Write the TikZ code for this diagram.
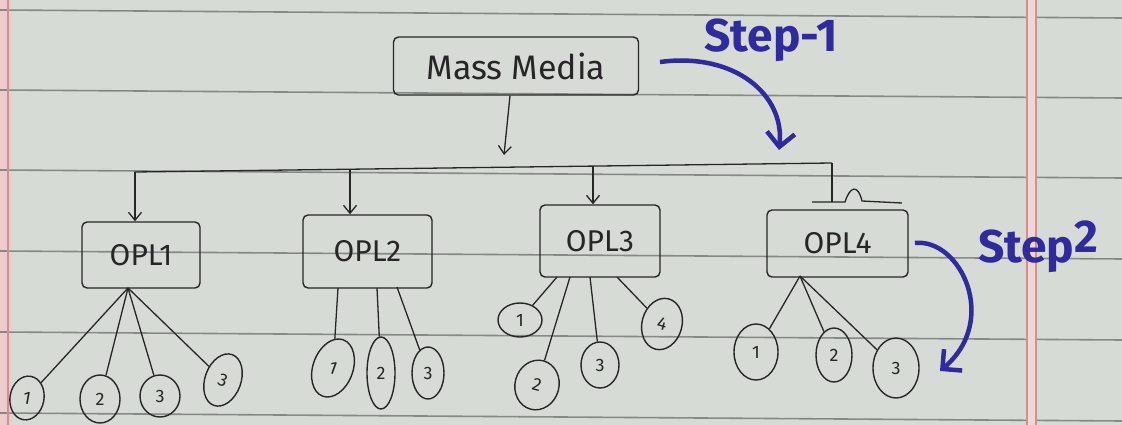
\documentclass[tikz,border=0pt]{standalone}
\usepackage{fontspec}
\setmainfont{Fira Sans}
\usetikzlibrary{arrows.meta,shapes.geometric}
\definecolor{paper}{HTML}{D7DBD5}
\definecolor{ruled}{HTML}{868A86}
\definecolor{ink}{HTML}{262626}
\definecolor{blueink}{HTML}{2F2A9E}
\definecolor{margin}{HTML}{D48E8E}
\begin{document}
\begin{tikzpicture}[x=1pt,y=-1pt,
  box/.style={draw=ink, line width=1.4pt, rounded corners=5pt, inner sep=0pt, text=ink},
  leaf/.style={draw=ink, line width=1.4pt, ellipse, inner sep=0pt, text=ink, font=\fontsize{18}{18}\selectfont},
  link/.style={draw=ink, line width=1.3pt},
  arr/.style={draw=ink, line width=1.3pt, -{Straight Barb[length=8pt,width=13pt]}},
  bluearr/.style={draw=blueink, line width=4.5pt, -{Straight Barb[length=14pt,width=28pt,line width=4.5pt]}},
  bluetext/.style={text=blueink, font=\fontsize{46}{46}\selectfont\bfseries}]
% paper
\fill[paper] (0,0) rectangle (1122,425);
\useasboundingbox (0,0) rectangle (1122,425);
\fill[margin!45] (0,0) rectangle (12,425);
\foreach \y in {10,90,170,251,332,413}
  \draw[ruled, line width=1.6pt] (0,\y) -- (1122,\y+8);
\draw[margin, line width=1.5pt] (8,0) -- (8,425);
\fill[margin!35] (1027,0) rectangle (1036,425);
\draw[margin, line width=1.5pt] (1027,0) -- (1027,425);
\draw[margin, line width=1.5pt] (1036,0) -- (1036,425);

% root
\node[box, minimum width=245pt, minimum height=58pt, font=\fontsize{34}{34}\selectfont] (mm) at (516,66) {Mass Media};
\coordinate (mmt) at (504,155);
\draw[arr] (mm.south -| mmt) ++(6,0) -- (mmt);

% OPL boxes
\node[box, minimum width=118pt, minimum height=66pt, font=\fontsize{30}{30}\selectfont] (o1) at (141,255) {OPL1};
\node[box, minimum width=129pt, minimum height=73pt, font=\fontsize{30}{30}\selectfont] (o2) at (367.5,251.5) {OPL2};
\node[box, minimum width=120pt, minimum height=72pt, font=\fontsize{30}{30}\selectfont] (o3) at (600,241) {OPL3};
\node[box, minimum width=141pt, minimum height=67pt, font=\fontsize{30}{30}\selectfont] (o4) at (837.5,243.5) {OPL4};

% bus
\coordinate (b1) at (135,172);
\coordinate (b2) at (350,169);
\coordinate (b3) at (593,166);
\coordinate (b4) at (832,163);
\draw[link] (b1) -- (b4);
\draw[arr] (b1) -- (b1 |- o1.north);
\draw[arr] (b2) -- (b2 |- o2.north);
\draw[arr] (b3) -- (b3 |- o3.north);
\coordinate (h4) at (832,202);
\draw[link] (b4) -- (h4);
\draw[link] (812,202) -- (845,202) .. controls (850,186) and (858,184) .. (862,201) -- (902,203);

% leaves OPL1
\node[leaf, minimum width=34pt, minimum height=44pt, rotate=-10] (l11) at (27,398) {1};
\node[leaf, minimum width=40pt, minimum height=48pt] (l12) at (100,399) {2};
\node[leaf, minimum width=40pt, minimum height=42pt] (l13) at (160,396) {3};
\node[leaf, minimum width=36pt, minimum height=54pt, rotate=-20] (l14) at (223,380) {3};
\coordinate (p1) at (128,288);
\foreach \l in {l11,l12,l13,l14} \draw[link] (p1) -- (\l);

% leaves OPL2
\node[leaf, minimum width=40pt, minimum height=60pt, rotate=-20] (l21) at (333,368) {1};
\node[leaf, minimum width=28pt, minimum height=72pt] (l22) at (381,373) {2};
\node[leaf, minimum width=32pt, minimum height=52pt] (l23) at (428,373) {3};
\coordinate (p21) at (338,288);
\coordinate (p22) at (377,288);
\coordinate (p23) at (397,287);
\draw[link] (p21) -- (l21);
\draw[link] (p22) -- (l22);
\draw[link] (p23) -- (l23);

% leaves OPL3
\node[leaf, minimum width=44pt, minimum height=34pt] (l31) at (520,320) {1};
\node[leaf, minimum width=44pt, minimum height=50pt, rotate=-15] (l32) at (537,385) {2};
\node[leaf, minimum width=38pt, minimum height=46pt] (l33) at (600,365) {3};
\node[leaf, minimum width=40pt, minimum height=52pt, rotate=-15] (l34) at (662,324) {4};
\coordinate (p31) at (557,277);
\coordinate (p32) at (570,277);
\coordinate (p33) at (590,277);
\coordinate (p34) at (617,277);
\draw[link] (p31) -- (l31);
\draw[link] (p32) -- (l32);
\draw[link] (p33) -- (l33);
\draw[link] (p34) -- (l34);

% leaves OPL4
\node[leaf, minimum width=44pt, minimum height=56pt] (l41) at (756,352) {1};
\node[leaf, minimum width=36pt, minimum height=54pt] (l42) at (834,355) {2};
\node[leaf, minimum width=46pt, minimum height=60pt] (l43) at (896,368) {3};
\coordinate (p4) at (800,276);
\foreach \l in {l41,l42,l43} \draw[link] (p4) -- (\l);

% blue steps
\node[bluetext] (s1) at (771,40) {Step-1};
\coordinate (s1a) at (660,62);
\coordinate (s1b) at (779,150);
\draw[bluearr] (s1a) .. controls (735,52) and (785,95) .. (s1b);
\node[bluetext] (s2) at (1038,247) {Step\raisebox{10pt}{2}};
\coordinate (s2a) at (915,243);
\coordinate (s2b) at (940,371);
\draw[bluearr] (s2a) .. controls (960,238) and (1000,320) .. (s2b);
\end{tikzpicture}
\end{document}
